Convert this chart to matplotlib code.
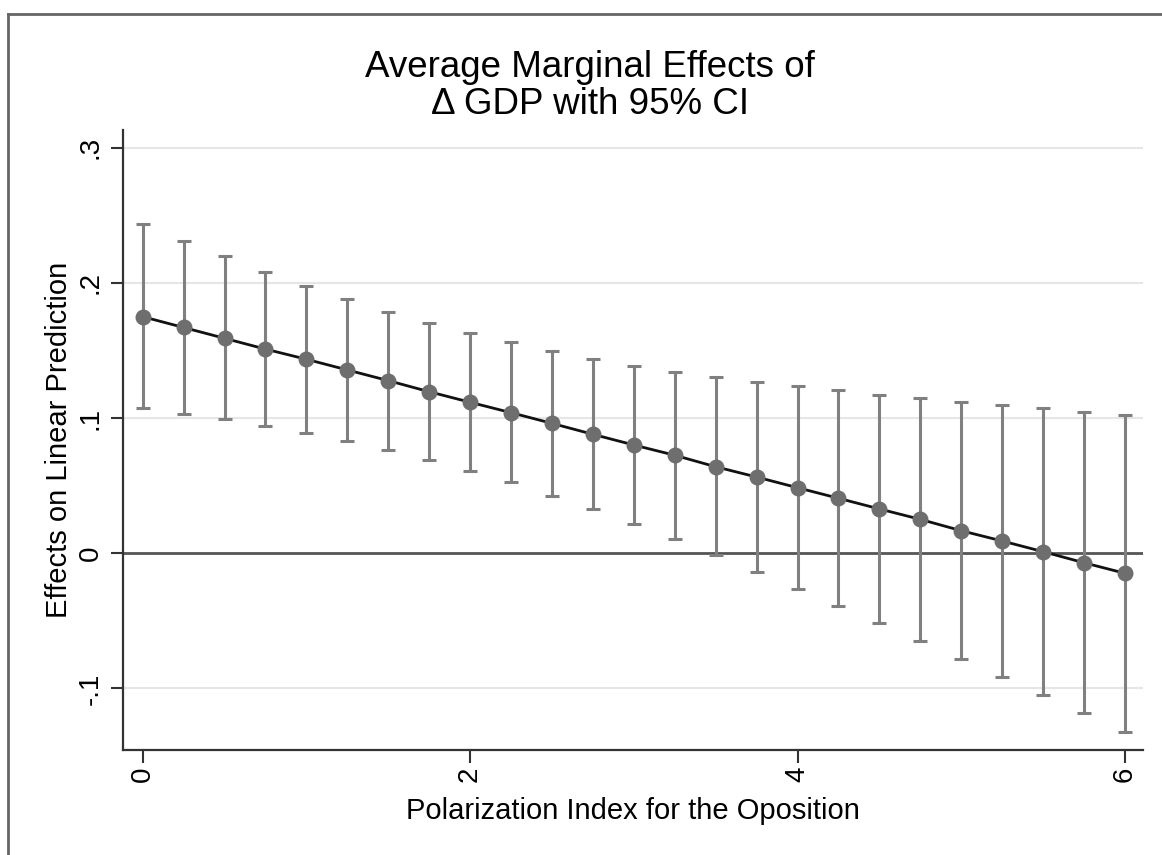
import numpy as np
import matplotlib
matplotlib.use('Agg')
import matplotlib.pyplot as plt
from matplotlib.lines import Line2D

plt.rcParams['font.family'] = ['Liberation Sans', 'DejaVu Sans']

# polarization index values and marginal effects with 95% bounds
polarization = [0, 0.25, 0.5, 0.75, 1, 1.25, 1.5, 1.75, 2, 2.25, 2.5, 2.75, 3,
                3.25, 3.5, 3.75, 4, 4.25, 4.5, 4.75, 5, 5.25, 5.5, 5.75, 6]
effect = [0.175, 0.167, 0.159, 0.151, 0.1435, 0.1356, 0.1277, 0.1195, 0.1117,
          0.104, 0.0961, 0.088, 0.0801, 0.0725, 0.064, 0.0564, 0.0485, 0.0407,
          0.0328, 0.0251, 0.0167, 0.0091, 0.0012, -0.007, -0.0148]
ci_upper = [0.2433, 0.231, 0.2197, 0.2083, 0.198, 0.188, 0.1787, 0.1703, 0.163,
            0.156, 0.1496, 0.1437, 0.1388, 0.1343, 0.1304, 0.1267, 0.1235,
            0.1206, 0.1173, 0.1146, 0.1121, 0.1095, 0.1072, 0.1047, 0.1023]
ci_lower = [0.1072, 0.1033, 0.0993, 0.0944, 0.089, 0.083, 0.0764, 0.069, 0.0611,
            0.0525, 0.0424, 0.0325, 0.0214, 0.0104, -0.0013, -0.014, -0.0266,
            -0.0387, -0.0518, -0.0651, -0.0784, -0.0917, -0.105, -0.1183, -0.132]

yticks = [-0.1, 0, 0.1, 0.2, 0.3]
ytick_labels = ['-.1', '0', '.1', '.2', '.3']
xticks = [0, 2, 4, 6]

x = np.array(polarization)
y = np.array(effect)
err = [y - np.array(ci_lower), np.array(ci_upper) - y]

fig = plt.figure(figsize=(11.62, 8.55), dpi=100)
ax = fig.add_axes([0.1059, 0.1228, 0.8777, 0.7252])

for v in yticks:
    if v != 0:
        ax.axhline(v, color='#e6e6e6', lw=1.5, zorder=0)
ax.axhline(0, color='#555555', lw=2, zorder=1)

ax.errorbar(x, y, yerr=err, fmt='none', ecolor='#808080', elinewidth=2.2,
            capsize=5, capthick=2.2, zorder=2)
ax.plot(x, y, color='#111111', lw=2, zorder=3)
ax.plot(x, y, 'o', color='#6e6e6e', ms=11.5, mec='none', zorder=4)

ax.set_xlim(-0.12, 6.11)
ax.set_ylim(-0.1455, 0.3131)
ax.set_xticks(xticks)
ax.set_xticklabels([str(t) for t in xticks], rotation=90, fontsize=20)
ax.set_yticks(yticks)
ax.set_yticklabels(ytick_labels, rotation=90, va='center', fontsize=20)
ax.tick_params(axis='both', length=9, width=1.5, color='#333333', direction='out')
ax.tick_params(axis='y', pad=5)
ax.tick_params(axis='x', pad=3)

for side in ['top', 'right']:
    ax.spines[side].set_visible(False)
for side in ['left', 'bottom']:
    ax.spines[side].set_color('#333333')
    ax.spines[side].set_linewidth(1.6)

ax.set_xlabel('Polarization Index for the Oposition', fontsize=21, labelpad=11)
ax.set_ylabel('Effects on Linear Prediction', fontsize=21, labelpad=3)

fig.text(590 / 1162, 1 - 86 / 855, 'Average Marginal Effects of\n\u0394 GDP with 95% CI',
         ha='center', va='center', fontsize=26.5, linespacing=1.05)

# outer frame lines along the top and left edges
fig.add_artist(Line2D([8 / 1162, 1], [1 - 14 / 855, 1 - 14 / 855],
                      transform=fig.transFigure, color='#666666', lw=2))
fig.add_artist(Line2D([8 / 1162, 8 / 1162], [0, 1 - 14 / 855],
                      transform=fig.transFigure, color='#666666', lw=2))

fig.savefig('out.png', dpi=100)
